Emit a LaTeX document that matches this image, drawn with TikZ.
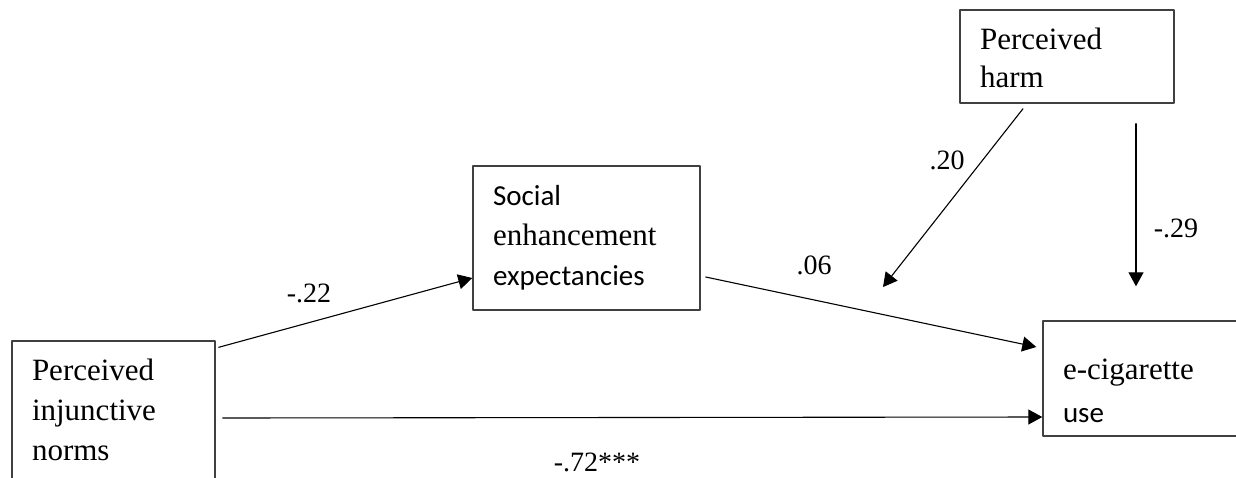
\documentclass[tikz,border=0pt]{standalone}
\usepackage{fontspec}
\setmainfont{Liberation Serif}
\setsansfont{Carlito}
\usetikzlibrary{arrows.meta}
\newcommand{\serifsize}{\fontsize{31}{40}\selectfont}
\newcommand{\sansline}[1]{{\sffamily\fontsize{29}{40}\selectfont #1}}
\tikzset{
  varbox/.style={draw=black!75, line width=1.4pt, rectangle, inner xsep=20pt, inner ysep=0pt, align=left, font=\serifsize},
  link/.style={-{Triangle[length=14pt,width=15pt]}, line width=1.1pt},
  coef/.style={font=\fontsize{28}{34}\selectfont, inner sep=0pt}
}
\begin{document}
\begin{tikzpicture}[x=1pt, y=-1pt, line cap=round, line join=round]
    \useasboundingbox (0,0) rectangle (1236,477);
    \clip (0,0) rectangle (1236,477);
    % variables
    \node[varbox, text width=163pt, minimum height=138pt] (norms) at (113.5,410) {Perceived\\ injunctive\\ norms};
    \node[varbox, text width=187pt, minimum height=144pt] (social) at (586.5,238) {\sansline{Social}\\ enhancement\\ \sansline{expectancies}};
    \node[varbox, text width=174pt, minimum height=93pt] (harm) at (1067,56.5) {\rule{0pt}{25pt}Perceived\\[-2pt] harm};
    \node[varbox, text width=177pt, minimum height=115pt, font=\fontsize{31}{43}\selectfont] (ecig) at (1151.5,378.5) {\rule{0pt}{46pt}e-cigarette\\ {\sffamily\fontsize{29}{43}\selectfont use}};
    \coordinate (modpt) at (883,287);
    % paths
    \draw[link] ([shift={(3,7)}]norms.north east) -- ([shift={(0,40)}]social.west);
    \draw[link] ([shift={(5,39)}]social.east) -- ([shift={(-6,-31.5)}]ecig.west);
    \draw[link] ([shift={(-44,5)}]harm.south) -- (modpt);
    \draw[link] ([shift={(69,20)}]harm.south) -- ([shift={(-15.5,-34)}]ecig.north);
    \draw[link] ([shift={(7,8)}]norms.east) -- ([shift={(0,38.5)}]ecig.west);
    % coefficients
    \node[coef] (c22) at (309,293) {-.22};
    \node[coef] (c06) at (814,265) {.06};
    \node[coef] (c20) at (947,160) {.20};
    \node[coef] (c29) at (1176,228) {-.29};
    \node[coef] (c72) at (597,462) {-.72***};
\end{tikzpicture}
\end{document}
